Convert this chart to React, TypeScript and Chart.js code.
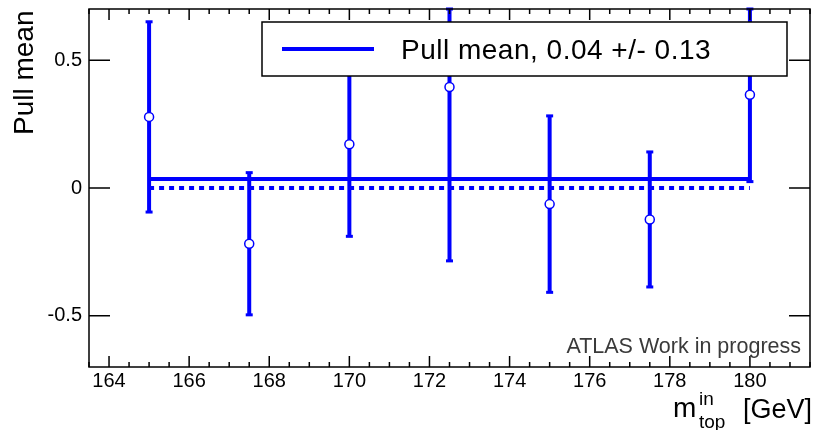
import React, { useEffect, useRef } from "react";
import { Chart, registerables } from "chart.js";

Chart.register(...registerables);

// ---- data ----
const massPoints = [165, 167.5, 170, 172.5, 175, 177.5, 180];
const pullMeans = [0.278, -0.218, 0.171, 0.395, -0.063, -0.123, 0.365];
const pullErrors = [0.372, 0.278, 0.36, 0.68, 0.345, 0.264, 0.34];
const fitMean = 0.035;
const fitRange = [165, 180];
const zeroLevel = 0;
const legendLabel = "Pull mean, 0.04 +/- 0.13";
const xMajorTicks = [164, 166, 168, 170, 172, 174, 176, 178, 180];
const xTickLabels = ["164", "166", "168", "170", "172", "174", "176", "178", "180"];
const xMinorStep = 0.5;
const yMajorTicks = [-0.5, 0, 0.5];
const yTickLabels = ["-0.5", "0", "0.5"];
const xRange = [163.5, 181.5];
const yRange = [-0.7, 0.7];

const BLUE = "#0000ff";
const FONT = "'Liberation Sans', Arial, Helvetica, sans-serif";

const rootPlugin = {
  id: "rootStyle",
  beforeDatasetsDraw(chart: any) {
    const { ctx, chartArea: a, scales } = chart;
    const xs = scales.x;
    const ys = scales.y;
    ctx.save();
    ctx.beginPath();
    ctx.rect(a.left, a.top - 3, a.right - a.left, a.bottom - a.top + 6);
    ctx.clip();
    ctx.strokeStyle = BLUE;
    ctx.fillStyle = BLUE;
    ctx.lineWidth = 4;
    massPoints.forEach((m, i) => {
      const x = xs.getPixelForValue(m);
      const lo = Math.max(yRange[0], pullMeans[i] - pullErrors[i]);
      const hi = Math.min(yRange[1], pullMeans[i] + pullErrors[i]);
      const yLo = ys.getPixelForValue(lo);
      const yHi = ys.getPixelForValue(hi);
      ctx.beginPath();
      ctx.moveTo(x, yLo);
      ctx.lineTo(x, yHi);
      ctx.stroke();
      ctx.fillRect(x - 3.5, yLo - 1.5, 7, 3);
      ctx.fillRect(x - 3.5, yHi - 1.5, 7, 3);
    });
    ctx.restore();
  },
  afterDraw(chart: any) {
    const { ctx, chartArea: a, scales } = chart;
    const xs = scales.x;
    const ys = scales.y;
    ctx.save();
    // frame
    ctx.strokeStyle = "#000";
    ctx.lineWidth = 1.5;
    ctx.strokeRect(a.left, a.top, a.right - a.left, a.bottom - a.top);
    // ticks
    ctx.beginPath();
    for (let v = xRange[0]; v <= xRange[1] + 1e-9; v += xMinorStep) {
      const x = xs.getPixelForValue(v);
      const major = xMajorTicks.some((t) => Math.abs(t - v) < 1e-6);
      const len = major ? 11 : 5;
      ctx.moveTo(x, a.bottom);
      ctx.lineTo(x, a.bottom - len);
      ctx.moveTo(x, a.top);
      ctx.lineTo(x, a.top + len);
    }
    yMajorTicks.forEach((t) => {
      const y = ys.getPixelForValue(t);
      ctx.moveTo(a.left, y);
      ctx.lineTo(a.left + 21, y);
      ctx.moveTo(a.right, y);
      ctx.lineTo(a.right - 21, y);
    });
    ctx.stroke();
    // tick labels
    ctx.fillStyle = "#000";
    ctx.font = `20px ${FONT}`;
    ctx.textAlign = "center";
    ctx.textBaseline = "alphabetic";
    xMajorTicks.forEach((t, i) => {
      ctx.fillText(xTickLabels[i], xs.getPixelForValue(t), 387);
    });
    ctx.textAlign = "right";
    ctx.textBaseline = "middle";
    yMajorTicks.forEach((t, i) => {
      ctx.fillText(yTickLabels[i], 82, ys.getPixelForValue(t));
    });
    // y title
    ctx.save();
    ctx.translate(33, 135);
    ctx.rotate(-Math.PI / 2);
    ctx.font = `28px ${FONT}`;
    ctx.textAlign = "left";
    ctx.textBaseline = "alphabetic";
    ctx.fillText("Pull mean", 0, 0);
    ctx.restore();
    // x title
    ctx.textAlign = "left";
    ctx.textBaseline = "alphabetic";
    ctx.font = `28px ${FONT}`;
    ctx.fillText("m", 673, 417);
    ctx.font = `19px ${FONT}`;
    ctx.fillText("in", 699, 405);
    ctx.fillText("top", 699, 428);
    ctx.font = `27px ${FONT}`;
    ctx.textAlign = "right";
    ctx.fillText("[GeV]", 812, 418);
    // ATLAS label
    ctx.fillStyle = "#3a3a3a";
    ctx.font = `21.5px ${FONT}`;
    ctx.textAlign = "right";
    ctx.fillText("ATLAS Work in progress", 801, 353);
    // legend
    const lx = 262, ly = 22, lw = 525, lh = 54;
    ctx.fillStyle = "#fff";
    ctx.fillRect(lx, ly, lw, lh);
    ctx.strokeStyle = "#000";
    ctx.lineWidth = 1.5;
    ctx.strokeRect(lx, ly, lw, lh);
    ctx.strokeStyle = BLUE;
    ctx.lineWidth = 4;
    ctx.beginPath();
    ctx.moveTo(282, 49);
    ctx.lineTo(374, 49);
    ctx.stroke();
    ctx.fillStyle = "#000";
    ctx.font = `28px ${FONT}`;
    (ctx as any).letterSpacing = "0.5px";
    ctx.textAlign = "left";
    ctx.textBaseline = "alphabetic";
    ctx.fillText(legendLabel, 401, 59);
    (ctx as any).letterSpacing = "0px";
    ctx.restore();
  },
};

export default function App() {
  const ref = useRef<HTMLCanvasElement | null>(null);
  useEffect(() => {
    if (!ref.current) return;
    const chart = new Chart(ref.current, {
      type: "scatter",
      data: {
        datasets: [
          {
            type: "line",
            label: "zero",
            data: fitRange.map((x) => ({ x, y: zeroLevel })),
            borderColor: BLUE,
            borderWidth: 4,
            borderDash: [5, 5],
            pointRadius: 0,
            fill: false,
            order: 3,
          } as any,
          {
            type: "line",
            label: legendLabel,
            data: fitRange.map((x) => ({ x, y: fitMean })),
            borderColor: BLUE,
            borderWidth: 4,
            pointRadius: 0,
            fill: false,
            order: 2,
          } as any,
          {
            type: "scatter",
            label: "points",
            data: massPoints.map((x, i) => ({ x, y: pullMeans[i] })),
            pointRadius: 4.5,
            pointBackgroundColor: "#fff",
            pointBorderColor: BLUE,
            pointBorderWidth: 1.5,
            order: 1,
          } as any,
        ],
      },
      options: {
        animation: false,
        responsive: false,
        events: [],
        layout: { padding: { left: 89, top: 9, right: 3, bottom: 63 } },
        plugins: { legend: { display: false }, tooltip: { enabled: false } },
        scales: {
          x: { type: "linear", min: xRange[0], max: xRange[1], display: false },
          y: { type: "linear", min: yRange[0], max: yRange[1], display: false },
        },
      },
      plugins: [rootPlugin],
    });
    return () => chart.destroy();
  }, []);
  return (
    <div style={{ position: "absolute", left: 0, top: 0, width: 816, height: 430, background: "#fff" }}>
      <canvas ref={ref} width={816} height={430} />
    </div>
  );
}
